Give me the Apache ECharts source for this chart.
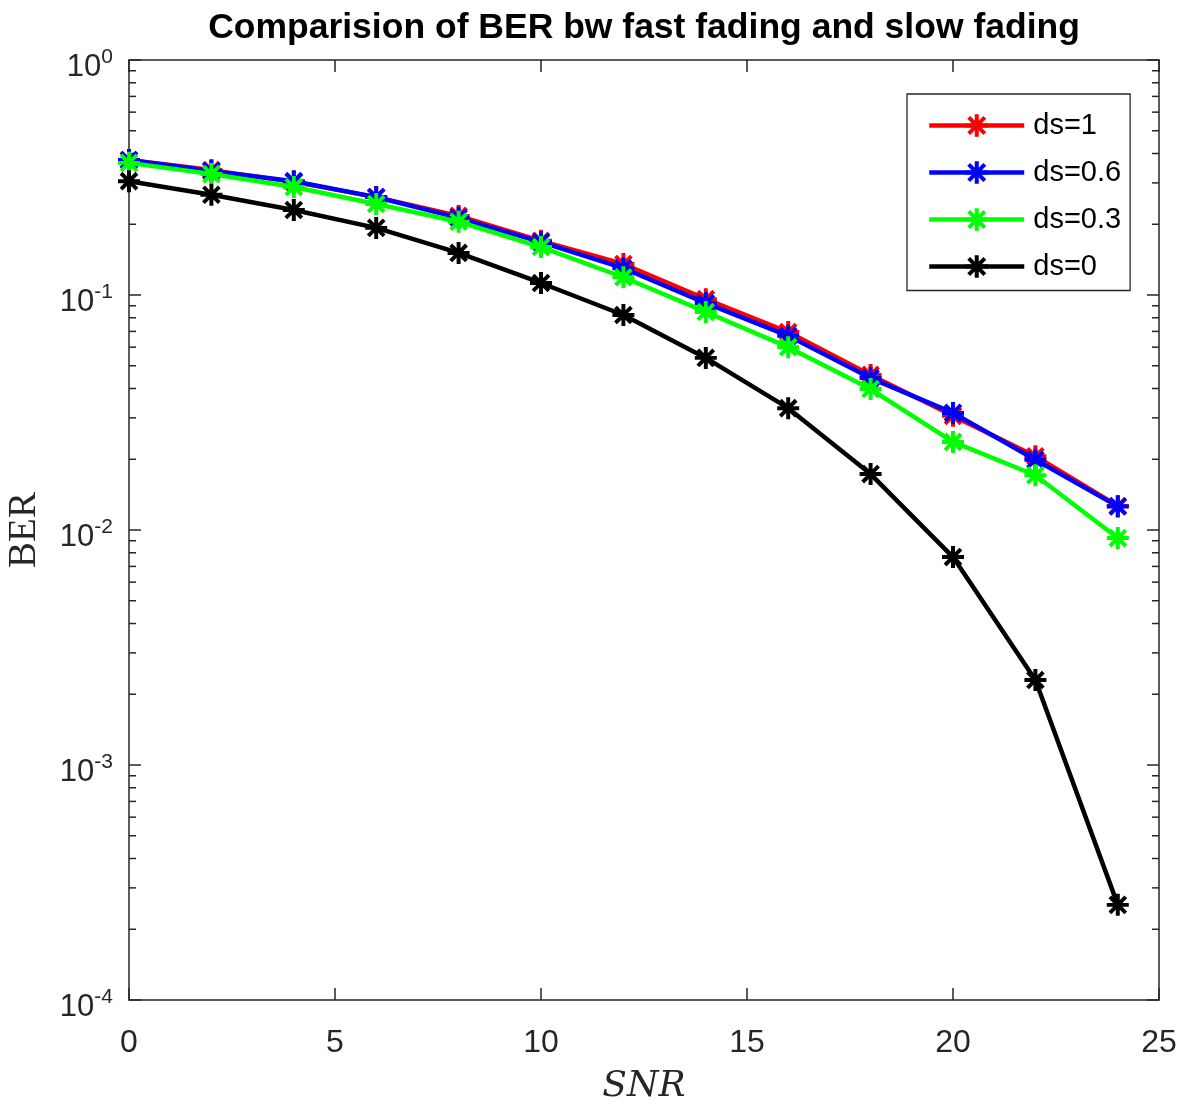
<!DOCTYPE html>
<html><head><meta charset="utf-8">
<script src="https://cdn.jsdelivr.net/npm/echarts@6/dist/echarts.min.js"></script>
<style>html,body{margin:0;padding:0;background:#fff}#c{width:1183px;height:1106px}</style>
</head><body><div id="c"></div>
<script>
// ---- data ----
const snr = [0, 2, 4, 6, 8, 10, 12, 14, 16, 18, 20, 22, 24];
const berDs1 = [0.375, 0.340, 0.303, 0.261, 0.217, 0.170, 0.1355, 0.096, 0.0696, 0.0457, 0.0306, 0.0206, 0.01265];
const berDs06 = [0.375, 0.337, 0.305, 0.261, 0.213, 0.168, 0.130, 0.0924, 0.067, 0.0443, 0.0315, 0.0199, 0.0126];
const berDs03 = [0.365, 0.327, 0.288, 0.244, 0.205, 0.160, 0.119, 0.0847, 0.060, 0.0398, 0.0237, 0.0171, 0.00924];
const berDs0 = [0.305, 0.267, 0.230, 0.193, 0.151, 0.1125, 0.0822, 0.054, 0.033, 0.0173, 0.00767, 0.0023, 0.000254];
const seriesNames = ['ds=1', 'ds=0.6', 'ds=0.3', 'ds=0'];
const seriesColors = ['#ff0000', '#0000ff', '#00ff00', '#000000'];
const xMin = 0, xMax = 25, xStep = 5;
const yMin = 1e-4, yMax = 1;
const titleText = 'Comparision of BER bw fast fading and slow fading';

// minor tick values of the log axis (2..9 x 10^k)
const minorVals = [];
for (let k = -4; k <= -1; k++) for (let m = 2; m <= 9; m++) minorVals.push(m * Math.pow(10, k));

const axisColor = '#262626';
const asterisk = 'path://M-0.18,-1L0.18,-1L0.18,1L-0.18,1Z' +
  'M-1,-0.18L1,-0.18L1,0.18L-1,0.18Z' +
  'M-0.847,-0.593L-0.593,-0.847L0.847,0.593L0.593,0.847Z' +
  'M0.593,-0.847L0.847,-0.593L-0.593,0.847L-0.847,0.593Z';

const dataSets = [berDs1, berDs06, berDs03, berDs0];
const lineSeries = dataSets.map((arr, i) => ({
  name: seriesNames[i],
  type: 'line',
  data: snr.map((x, j) => [x, arr[j]]),
  symbol: asterisk,
  symbolSize: 22,
  showSymbol: true,
  lineStyle: { width: 4.5, color: seriesColors[i] },
  itemStyle: { color: seriesColors[i] },
  emphasis: { disabled: true },
  z: 3 + i
}));

const chart = echarts.init(document.getElementById('c'), null, { renderer: 'canvas' });
const common = {
  type: 'value', min: xMin, max: xMax, interval: xStep,
  axisLine: { show: true, onZero: false, lineStyle: { color: axisColor, width: 1.5 } },
  axisTick: { show: true, inside: true, length: 12, lineStyle: { color: axisColor, width: 1.5 } },
  splitLine: { show: false }
};
const yCommon = {
  type: 'log', logBase: 10, min: yMin, max: yMax,
  axisLine: { show: true, onZero: false, lineStyle: { color: axisColor, width: 1.5 } },
  axisTick: { show: true, inside: true, length: 12, lineStyle: { color: axisColor, width: 1.5 } },
  splitLine: { show: false }
};

chart.setOption({
  animation: false,
  backgroundColor: '#ffffff',
  title: {
    text: titleText, left: 639, top: 5, textAlign: 'center',
    textStyle: { fontSize: 35.5, fontWeight: 'bold', fontFamily: 'Liberation Sans', color: '#000' }
  },
  grid: { left: 129, right: 24, top: 60, bottom: 106, containLabel: false, outerBoundsMode: 'none' },
  legend: {
    orient: 'vertical', left: 907, top: 94,
    padding: [16.5, 9, 9, 20], itemGap: 17, itemWidth: 95, itemHeight: 28,
    backgroundColor: '#fff', borderColor: axisColor, borderWidth: 1.3, borderRadius: 0,
    lineStyle: { width: 4.5 },
    textStyle: { fontSize: 29, fontFamily: 'Liberation Sans', color: '#000', lineHeight: 30, padding: [0, 0, 0, 4] },
    data: seriesNames
  },
  xAxis: [
    Object.assign({}, common, {
      position: 'bottom',
      axisLabel: { color: axisColor, fontSize: 32, fontFamily: 'Liberation Sans', margin: 27 },
      name: 'SNR', nameLocation: 'middle', nameGap: 69,
      nameTextStyle: { fontFamily: 'DejaVu Serif', fontStyle: 'italic', fontSize: 36, color: axisColor }
    }),
    Object.assign({}, common, { position: 'top', axisLabel: { show: false } })
  ],
  yAxis: [
    Object.assign({}, yCommon, {
      position: 'left',
      axisLabel: {
        margin: 16, color: axisColor, fontFamily: 'Liberation Sans',
        formatter: v => '{b|10}{s|' + Math.round(Math.log10(v)) + '}',
        rich: {
          b: { fontSize: 31, fontFamily: 'Liberation Sans', color: axisColor, padding: [14, 0, 0, 0] },
          s: { fontSize: 21, fontFamily: 'Liberation Sans', color: axisColor, padding: [0, 0, 6, 0] }
        }
      },
      name: 'BER', nameLocation: 'middle', nameGap: 85, nameRotate: 90,
      nameTextStyle: { fontFamily: 'Liberation Serif', fontSize: 39, color: axisColor }
    }),
    Object.assign({}, yCommon, { position: 'right', axisLabel: { show: false } })
  ],
  series: [
    {
      type: 'custom', silent: true, xAxisIndex: 0, yAxisIndex: 0, z: 1,
      data: minorVals.map(v => [xMin, v]),
      encode: { x: 0, y: 1 },
      renderItem: (params, api) => {
        const v = api.value(1);
        const pl = api.coord([xMin, v]);
        const pr = api.coord([xMax, v]);
        const st = { stroke: axisColor, lineWidth: 1.5 };
        return {
          type: 'group', children: [
            { type: 'line', shape: { x1: pl[0], y1: pl[1], x2: pl[0] + 7, y2: pl[1] }, style: st },
            { type: 'line', shape: { x1: pr[0] - 7, y1: pr[1], x2: pr[0], y2: pr[1] }, style: st }
          ]
        };
      }
    }
  ].concat(lineSeries)
});
</script></body></html>
